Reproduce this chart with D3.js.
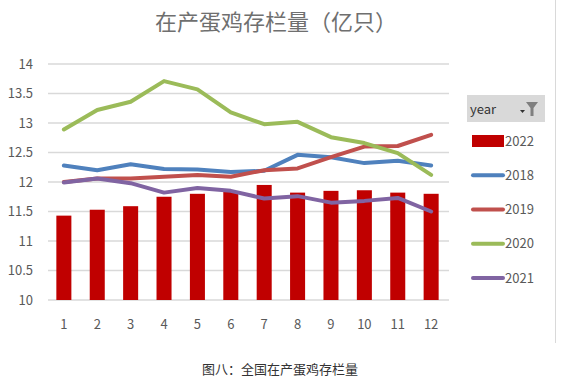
<!DOCTYPE html>
<html lang="zh">
<head>
  <meta charset="utf-8"/>
  <title>在产蛋鸡存栏量</title>
  <script src="https://d3js.org/d3.v7.min.js"></script>
  <style>
    body { margin: 0; background: #fff; }
    text { font-family: "Noto Sans CJK SC", "Noto Sans", sans-serif; }
  </style>
</head>
<body>
<svg id="chart" width="564" height="377"></svg>
<script>
  // months on the x axis
  var months = [1, 2, 3, 4, 5, 6, 7, 8, 9, 10, 11, 12];
  var yTicks = [10, 10.5, 11, 11.5, 12, 12.5, 13, 13.5, 14];

  // 2022 as bars, other years as lines
  var v2022 = [11.43, 11.53, 11.59, 11.75, 11.80, 11.84, 11.95, 11.82, 11.85, 11.86, 11.82, 11.80];
  var v2018 = [12.28, 12.20, 12.30, 12.22, 12.21, 12.17, 12.19, 12.46, 12.42, 12.32, 12.36, 12.28];
  var v2019 = [12.00, 12.06, 12.06, 12.09, 12.12, 12.09, 12.20, 12.23, 12.42, 12.60, 12.61, 12.80];
  var v2020 = [12.89, 13.22, 13.36, 13.71, 13.57, 13.18, 12.98, 13.02, 12.76, 12.66, 12.49, 12.12];
  var v2021 = [11.99, 12.06, 11.98, 11.82, 11.90, 11.85, 11.72, 11.76, 11.65, 11.68, 11.73, 11.50];

  var lineSeries = [
    { name: '2018', values: v2018, color: '#4f81bd' },
    { name: '2019', values: v2019, color: '#c0504d' },
    { name: '2020', values: v2020, color: '#9bbb59' },
    { name: '2021', values: v2021, color: '#8064a2' }
  ];
  var barColor = '#c00000';

  var svg = d3.select('#chart');

  var x = d3.scaleBand()
            .domain(months)
            .range([47, 448])
            .paddingInner(0.55)
            .paddingOuter(0.28);

  var y = d3.scaleLinear()
            .domain([10, 14])
            .range([300, 64]);

  // gridlines
  svg.append('g')
     .selectAll('line')
     .data(yTicks)
     .enter()
     .append('line')
     .attr('x1', 48)
     .attr('x2', 449)
     .attr('y1', d => y(d))
     .attr('y2', d => y(d))
     .attr('stroke', '#d9d9d9')
     .attr('stroke-width', 1.3);

  // y labels
  svg.append('g')
     .selectAll('text')
     .data(yTicks)
     .enter()
     .append('text')
     .attr('x', 33)
     .attr('y', d => y(d))
     .attr('dy', '0.35em')
     .attr('text-anchor', 'end')
     .attr('font-size', 13)
     .attr('fill', '#595959')
     .text(d => d);

  // x labels
  svg.append('g')
     .selectAll('text')
     .data(months)
     .enter()
     .append('text')
     .attr('x', d => x(d) + x.bandwidth() / 2)
     .attr('y', 324)
     .attr('dy', '0.35em')
     .attr('text-anchor', 'middle')
     .attr('font-size', 13)
     .attr('fill', '#595959')
     .text(d => d);

  // bars 2022
  svg.append('g')
     .selectAll('rect')
     .data(v2022)
     .enter()
     .append('rect')
     .attr('x', (d, i) => x(months[i]))
     .attr('width', x.bandwidth())
     .attr('y', d => y(d))
     .attr('height', d => y(10) - y(d))
     .attr('fill', barColor);

  // lines
  var line = d3.line()
               .x((d, i) => x(months[i]) + x.bandwidth() / 2)
               .y(d => y(d));

  svg.append('g')
     .selectAll('path')
     .data(lineSeries)
     .enter()
     .append('path')
     .attr('d', d => line(d.values))
     .attr('fill', 'none')
     .attr('stroke', d => d.color)
     .attr('stroke-width', 4)
     .attr('stroke-linejoin', 'round')
     .attr('stroke-linecap', 'round');

  // title
  svg.append('text')
     .attr('x', 276)
     .attr('y', 22)
     .attr('dy', '0.35em')
     .attr('text-anchor', 'middle')
     .attr('font-size', 22)
     .attr('fill', '#6f6f6f')
     .text('在产蛋鸡存栏量（亿只）');

  // right border
  svg.append('line')
     .attr('x1', 555.5).attr('x2', 555.5)
     .attr('y1', 0).attr('y2', 343)
     .attr('stroke', '#d9d9d9')
     .attr('stroke-width', 1);

  // legend
  var legend = svg.append('g');
  legend.append('rect')
        .attr('x', 467).attr('y', 95)
        .attr('width', 78).attr('height', 27)
        .attr('fill', '#d9d9d9');
  legend.append('text')
        .attr('x', 470).attr('y', 109)
        .attr('dy', '0.35em')
        .attr('font-size', 13)
        .attr('fill', '#333')
        .text('year');
  // filter icon
  legend.append('path')
        .attr('d', 'M526,102 L538,102 L533.5,108 L533.5,116 L530.5,116 L530.5,108 Z')
        .attr('fill', '#7f7f7f');
  legend.append('path')
        .attr('d', 'M520,110 L525,110 L522.5,113 Z')
        .attr('fill', '#333');

  var legendItems = [{ name: '2022', color: barColor, bar: true }].concat(lineSeries);
  var ly = d3.scaleLinear().domain([0, 4]).range([141, 278]);

  var items = legend.selectAll('g.item')
                    .data(legendItems)
                    .enter()
                    .append('g')
                    .attr('class', 'item')
                    .attr('transform', (d, i) => 'translate(0,' + ly(i) + ')');

  items.filter(d => d.bar)
       .append('rect')
       .attr('x', 472).attr('y', -6)
       .attr('width', 32).attr('height', 12)
       .attr('fill', d => d.color);

  items.filter(d => !d.bar)
       .append('line')
       .attr('x1', 473).attr('x2', 503)
       .attr('y1', 0).attr('y2', 0)
       .attr('stroke', d => d.color)
       .attr('stroke-width', 4)
       .attr('stroke-linecap', 'round');

  items.append('text')
       .attr('x', 505)
       .attr('y', 0)
       .attr('dy', '0.35em')
       .attr('font-size', 13)
       .attr('fill', '#595959')
       .text(d => d.name);

  // caption
  svg.append('text')
     .attr('x', 280)
     .attr('y', 369)
     .attr('dy', '0.35em')
     .attr('text-anchor', 'middle')
     .attr('font-size', 13)
     .attr('fill', '#333')
     .text('图八：全国在产蛋鸡存栏量');
</script>
</body>
</html>
